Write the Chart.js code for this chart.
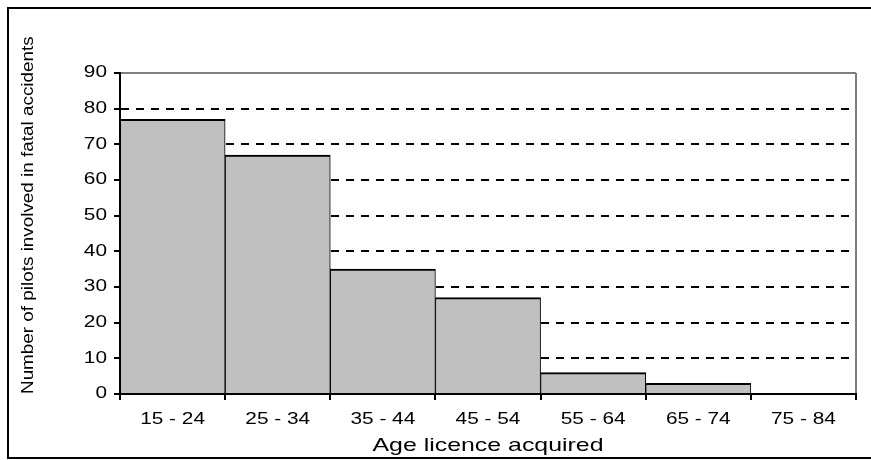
<!DOCTYPE html>
<html>
<head>
<meta charset="utf-8">
<script src="https://cdn.jsdelivr.net/npm/chart.js@4.4.1/dist/chart.umd.min.js"></script>
<style>
  html, body { margin: 0; padding: 0; background: #fff; overflow: hidden; }
  #wrap { position: relative; width: 871px; height: 460px; }
  #wrap canvas { position: absolute; left: 0; top: 0; }
  #frame {
    position: absolute; left: 7px; top: 7px; width: 900px; height: 448px;
    border: 2px solid #000; pointer-events: none;
  }
</style>
</head>
<body>
<div id="wrap">
  <canvas id="chart" width="871" height="460"></canvas>
  <div id="frame"></div>
</div>
<script>
// Age band at which the licence was acquired
const ageBands = ['15 - 24', '25 - 34', '35 - 44', '45 - 54', '55 - 64', '65 - 74', '75 - 84'];
// Pilots involved in fatal accidents per band
const pilotCounts = [77, 67, 35, 27, 6, 3, 0];
// Value axis range and step
const yMin = 0;
const yMax = 90;
const yStep = 10;

const FONT = "'Liberation Sans', Arial, sans-serif";

// Wide lettering: text of a given pixel size is drawn stretched along its run.
const TEXT_STRETCH = { 16: 1.3, 17: 1.11, 19: 1.31 };
const baseFillText = CanvasRenderingContext2D.prototype.fillText;
CanvasRenderingContext2D.prototype.fillText = function (text, x, y) {
  const m = /(\d+(?:\.\d+)?)px/.exec(this.font);
  const k = m ? TEXT_STRETCH[Math.round(parseFloat(m[1]))] : undefined;
  if (!k) return baseFillText.apply(this, arguments);
  this.save();
  this.translate(x, y);
  this.scale(k, 1);
  baseFillText.call(this, text, 0, 0);
  this.restore();
};

const isTop = c => c.tick && c.tick.value === yMax;

new Chart(document.getElementById('chart'), {
  type: 'bar',
  data: {
    labels: ageBands,
    datasets: [{
      data: pilotCounts,
      backgroundColor: '#c0c0c0',
      borderColor: '#000',
      borderWidth: { top: 2, left: 1, right: 1, bottom: 0 },
      barPercentage: 1,
      categoryPercentage: 1
    }]
  },
  options: {
    responsive: false,
    animation: false,
    devicePixelRatio: 1,
    layout: { padding: { top: 73, right: 15, left: 0, bottom: 0 } },
    plugins: { legend: { display: false }, tooltip: { enabled: false } },
    scales: {
      x: {
        offset: true,
        grid: {
          offset: true,
          color: c => (c.type === 'scale' ? '#808080' : 'rgba(0,0,0,0)'),
          lineWidth: 2,
          tickLength: 6,
          tickColor: '#000',
          tickWidth: 2
        },
        border: { display: true, color: '#000', width: 2, z: 1 },
        ticks: {
          color: '#000',
          font: { family: FONT, size: 16 },
          padding: 10,
          maxRotation: 0,
          autoSkip: false
        },
        title: {
          display: true,
          text: 'Age licence acquired',
          color: '#000',
          font: { family: FONT, size: 19 },
          padding: { top: 0, bottom: 3 }
        },
        afterFit: s => { s.height = 66; }
      },
      y: {
        min: yMin,
        max: yMax,
        grid: {
          color: c => (isTop(c) ? '#808080' : '#000'),
          lineWidth: 2,
          tickLength: 6,
          tickColor: '#000',
          tickWidth: 2
        },
        border: {
          display: true, color: '#000', width: 2, z: 1,
          dash: c => (isTop(c) ? [] : [8, 7])
        },
        ticks: {
          stepSize: yStep,
          color: '#000',
          font: { family: FONT, size: 16 },
          padding: 7
        },
        title: {
          display: true,
          text: 'Number of pilots involved in fatal accidents',
          align: 'start',
          color: '#000',
          font: { family: FONT, size: 17 },
          padding: { top: 18, bottom: 0 }
        },
        afterFit: s => { s.width = 120; }
      }
    }
  }
});
</script>
</body>
</html>
